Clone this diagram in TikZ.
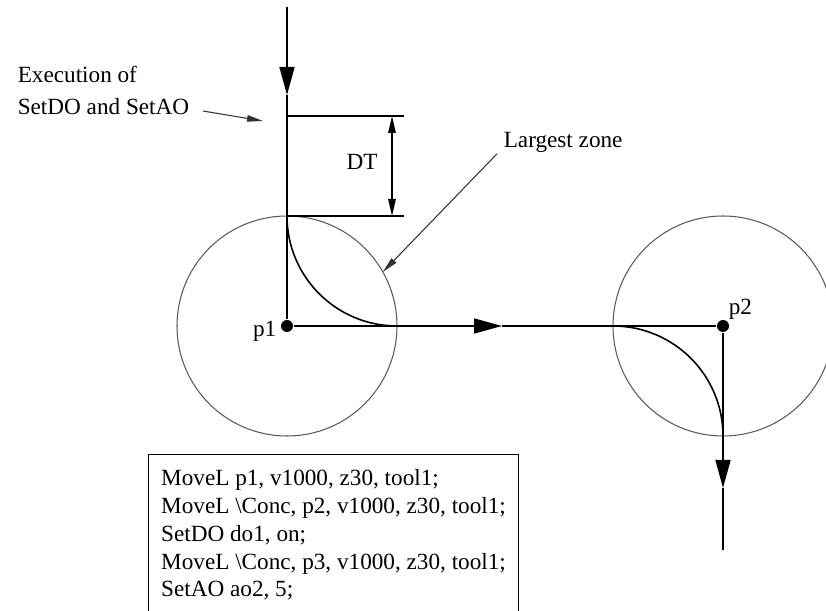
\documentclass[tikz,border=0pt]{standalone}
\usepackage{fontspec}
\setmainfont{Liberation Serif}
\usetikzlibrary{arrows.meta}

\begin{document}
\begin{tikzpicture}[>={Triangle[length=0.56cm, width=0.3cm]}, line width=0.9pt,
    pointer/.style={-{Triangle[length=0.32cm, width=0.13cm]}, line width=0.6pt, black!80},
    dtarrow/.style={{Triangle[length=0.34cm, width=0.15cm]}-{Triangle[length=0.34cm, width=0.15cm]}, line width=0.8pt},
    zone/.style={line width=0.6pt, black!65},
    dot/.style={circle, fill, inner sep=0pt, minimum size=0.24cm},
    lbl/.style={font=\fontsize{13.2}{15.8}\selectfont, inner sep=0pt}]
    \useasboundingbox (-5.74,-5.7) rectangle (10.78,6.52);

    % robot targets
    \node[dot] (p1) at (0,0) {};
    \node[dot] (p2) at (8.72,0) {};
    \node[lbl, anchor=base east] (p1lbl) at (-0.2,-0.22) {p1};
    \node[lbl, anchor=base west] (p2lbl) at (8.82,0.22) {p2};

    % zones
    \draw[zone] (p1.center) circle[radius=2.2];
    \draw[zone] (p2.center) circle[radius=2.2];

    % path with corner paths
    \coordinate (in) at (0,6.38);
    \coordinate (inhead) at (0,4.62);
    \coordinate (midhead) at (4.3,0);
    \coordinate (outhead) at (8.72,-3.24);
    \coordinate (out) at (8.72,-4.48);
    \draw[->] (in) -- (inhead);
    \draw (inhead) -- (p1);
    \draw[->] (p1) -- (midhead);
    \draw (midhead) -- (p2);
    \draw[->] (p2) -- (outhead);
    \draw (outhead) -- (out);
    \draw (0,2.2) arc[start angle=180, end angle=270, radius=2.2];
    \draw (6.52,0) arc[start angle=90, end angle=0, radius=2.2];

    % DT
    \coordinate (dt1) at (0,4.2);
    \coordinate (dt2) at (0,2.2);
    \draw (dt1) -- ++(2.34,0);
    \draw (dt2) -- ++(2.34,0);
    \draw[dtarrow] ([xshift=2.1cm]dt1) -- ([xshift=2.1cm]dt2);
    \node[lbl, anchor=base] (dt) at (1.5,3.12) {DT};

    % labels
    \node[lbl, anchor=base west, align=left, font=\fontsize{13.2}{18.7}\selectfont] (exec) at (-5.4,4.22) {Execution of\\SetDO and SetAO};
    \coordinate (exto) at (-0.48,4.1);
    \draw[pointer] ([shift={(0.26,0.1)}]exec.south east) -- (exto);

    \node[lbl, anchor=base west] (zonelbl) at (4.32,3.56) {Largest zone};
    \coordinate (zonept) at (29.4:2.2);
    \draw[pointer] ([xshift=-0.12cm]zonelbl.south west) -- (zonept);

    % program
    \node[draw, line width=0.8pt, anchor=north west, inner xsep=0.25cm, inner ysep=0.3cm,
          align=left, font=\fontsize{13.2}{15.8}\selectfont] (code) at (-2.78,-2.56)
        {MoveL p1, v1000, z30, tool1;\\
         MoveL \textbackslash Conc, p2, v1000, z30, tool1;\\
         SetDO do1, on;\\
         MoveL \textbackslash Conc, p3, v1000, z30, tool1;\\
         SetAO ao2, 5;};
\end{tikzpicture}
\end{document}
